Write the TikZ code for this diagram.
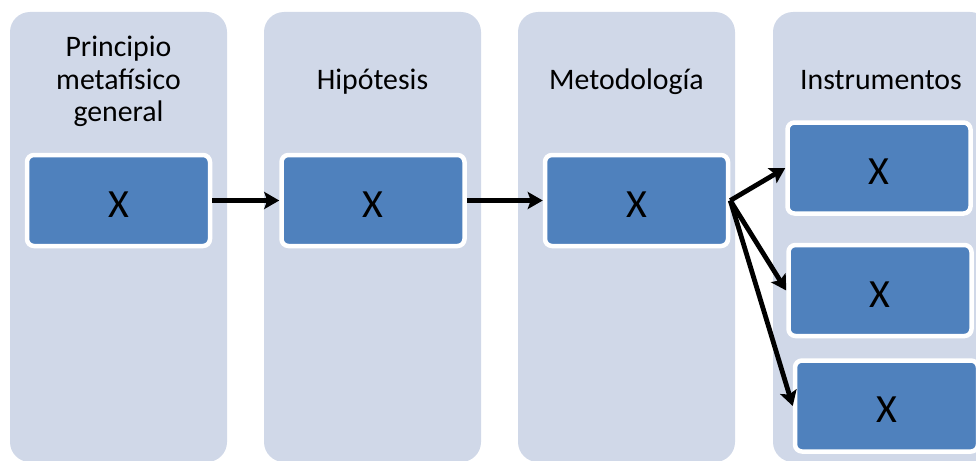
\documentclass[tikz,border=0pt]{standalone}
\usepackage{fontspec}
\setmainfont{Carlito}
\usetikzlibrary{arrows.meta}
\definecolor{colbg}{RGB}{208,216,232}
\definecolor{boxblue}{RGB}{79,129,189}

\begin{document}
\begin{tikzpicture}[>={Stealth[length=15pt,width=17pt,inset=3pt]}, x=1pt, y=-1pt,
column/.style={fill=colbg, rounded corners=20pt},
box/.style={draw=white, line width=4.5pt, fill=boxblue, rounded corners=7pt,
  minimum width=183pt, minimum height=91pt, inner sep=0pt,
  text height=33pt, text depth=0pt, font=\fontsize{40}{44}\selectfont},
title/.style={align=center, font=\fontsize{29.8}{32.5}\selectfont},
flow/.style={->, line width=4.8pt}]

%%%%%% SETTINGS %%%%%%%%%%

\useasboundingbox (0,0) rectangle (976,460);
\clip (0,0) rectangle (976,460);

%%%%%% COLUMNS %%%%%%%%%%

\foreach \x in {10, 264, 518, 773}{\fill[column] (\x,12) rectangle +(217,450);}

\node [title] (principio) at (118.5,81.5) {Principio\\metafísico\\general};
\node [title, anchor=base] (hipotesis) at (372.5,89) {Hipótesis};
\node [title, anchor=base] (metodologia) at (626.5,89) {Metodología};
\node [title, anchor=base] (instrumentos) at (881,89) {Instrumentos};

%%%%%% BOXES %%%%%%%%%%

\node [box] (b1) at (118.5,200.5) {X};
\node [box] (b2) at (373,200.5) {X};
\node [box] (b3) at (636.5,200.5) {X};

\node [box] (i1) at (879,168) {X};
\node [box] (i2) at (880,290.5) {X};
\node [box] (i3) at (886.5,406) {X};

%%%%%% ARROWS %%%%%%%%%%

\draw [flow] (b1) -- (b2);
\draw [flow] (b2) -- (b3);
\draw [flow] (b3.east) -- (i1.west);
\draw [flow] (b3.east) -- (i2.west);
\draw [flow] (b3.east) -- (i3.west);

\end{tikzpicture}
\end{document}
